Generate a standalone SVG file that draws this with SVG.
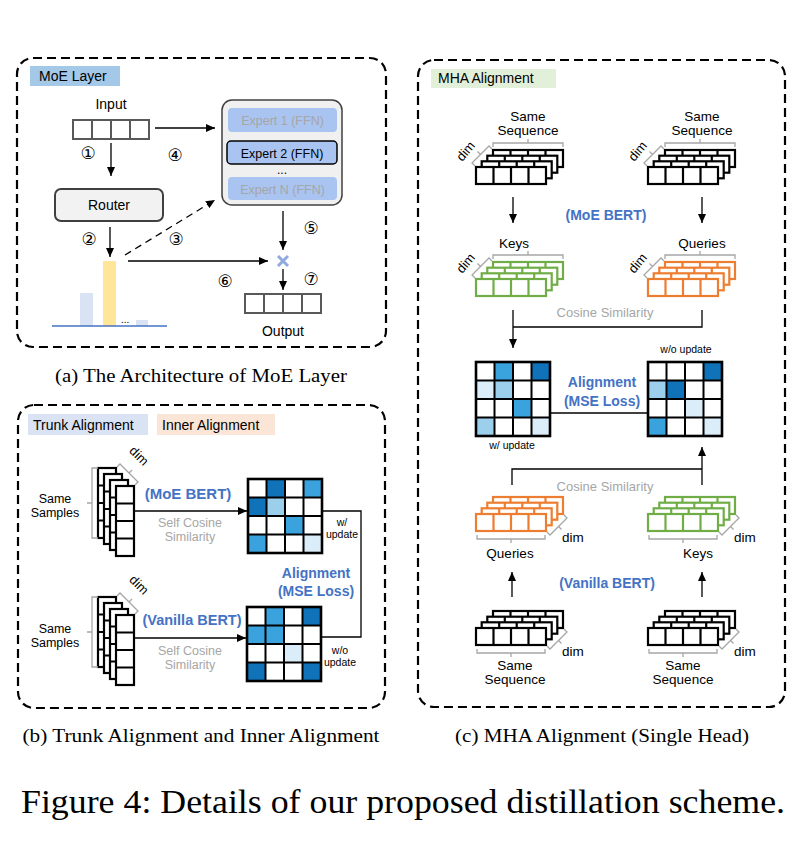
<svg xmlns="http://www.w3.org/2000/svg" xmlns:xlink="http://www.w3.org/1999/xlink" width="809" height="843" viewBox="0 0 809 843">
<style>
.frame{fill:none;stroke:#000;stroke-width:2.2;stroke-dasharray:9 5}
.t{font-family:"Liberation Sans",Arial,sans-serif;font-size:13.5px;fill:#000}
.c{text-anchor:middle}
.num{font-family:"DejaVu Sans",sans-serif;font-size:17px;text-anchor:middle;fill:#000}
.blue{font-family:"Liberation Sans",Arial,sans-serif;font-weight:bold;font-size:14px;fill:#4472c4;text-anchor:middle}
.gray{font-family:"Liberation Sans",Arial,sans-serif;font-size:12.5px;fill:#a6a6a6;text-anchor:middle}
.small{font-family:"Liberation Sans",Arial,sans-serif;font-size:10.5px;fill:#000;text-anchor:middle}
.cap{font-family:"Liberation Serif","Times New Roman",serif;font-size:19.5px;fill:#000;text-anchor:middle}
.ln{fill:none;stroke:#000;stroke-width:1.3}
.br{fill:none;stroke:#a6a6a6;stroke-width:1.3}
.D{fill:#1072b9}.M{fill:#3aa2dc}.L{fill:#9ccfec}.V{fill:#daedf8}
</style>
<defs>
<marker id="ah" viewBox="0 0 9 8" refX="9" refY="4" markerWidth="9" markerHeight="8" markerUnits="userSpaceOnUse" orient="auto"><path d="M0,0L9,4L0,8z" fill="#000"/></marker>
<g id="hrow"><rect width="70" height="17" fill="#fff" stroke="currentColor" stroke-width="2.2"/><path d="M17.5,0V17M35,0V17M52.5,0V17" stroke="currentColor" stroke-width="2.2"/></g>
<g id="hstack"><use href="#hrow" x="17" y="-17"/><use href="#hrow" x="11.3" y="-11.3"/><use href="#hrow" x="5.7" y="-5.7"/><use href="#hrow"/></g>
<g id="vcol"><rect width="18" height="70" fill="#fff" stroke="#000" stroke-width="2.2"/><path d="M0,17.5H18M0,35H18M0,52.5H18" stroke="#000" stroke-width="2.2"/></g>
<g id="vstack"><use href="#vcol" x="-18" y="-18"/><use href="#vcol" x="-12" y="-12"/><use href="#vcol" x="-6" y="-6"/><use href="#vcol"/>
<path class="br" d="M-18,-18H-24V52H-18M-24,17H-29M1,-19L4,-22L22,-4L19,-1M13,-13L16,-16"/>
<text class="t" style="font-size:13px" transform="translate(20,-27) rotate(45)" text-anchor="middle">dim</text></g>
<g id="topbr"><path class="br" d="M17,-20V-24H87V-20M52,-24V-28M-1,-1L-4,-4L13,-21L16,-18M4.5,-12.5L1.5,-15.5"/>
<text class="t" style="font-size:13px" transform="translate(-7,-13) rotate(-50)" text-anchor="middle">dim</text></g>
<g id="botbr"><path class="br" d="M1,21V25H69V21M35,25V29M71,18L74,21L91,4L88,1M82.5,12.5L85.5,15.5"/>
<text class="t" x="86" y="28">dim</text></g>
<g id="grid"><rect width="74" height="74" fill="none" stroke="#000" stroke-width="2.6"/><path d="M18.5,0V74M37,0V74M55.5,0V74M0,18.5H74M0,37H74M0,55.5H74" stroke="#000" stroke-width="2"/></g>
<g id="irow"><rect width="76" height="19" fill="#fff" stroke="#595959" stroke-width="2"/><path d="M19,0V19M38,0V19M57,0V19" stroke="#595959" stroke-width="2"/></g>
</defs>
<rect width="809" height="843" fill="#fff"/>

<!-- Panel frames -->
<rect class="frame" x="17" y="58" width="369" height="289" rx="16"/>
<rect class="frame" x="18" y="405" width="367" height="303" rx="16"/>
<rect class="frame" x="418" y="60" width="367" height="647" rx="16"/>

<!-- ===== Panel a ===== -->
<g id="moe-label"><rect x="30" y="66" width="90" height="20" fill="#a4c8e8"/><text class="t" x="39" y="81" style="font-size:14px">MoE Layer</text></g>
<g id="input"><text class="t c" x="111" y="109" style="font-size:14px">Input</text><use href="#irow" x="73" y="120"/></g>
<g id="router"><rect x="55" y="189" width="108" height="32" rx="6" fill="#f2f2f2" stroke="#404040" stroke-width="2"/><text class="t c" x="109" y="210" style="font-size:14px">Router</text></g>
<g id="experts"><rect x="222" y="100" width="120" height="105" rx="10" fill="#f0f0f0" stroke="#404040" stroke-width="1.5"/>
<rect x="228" y="108" width="109" height="24" rx="4" fill="#a9c4f0"/><text class="t c" x="282.5" y="125" style="font-size:12.5px;fill:#a6a6a6">Expert 1 (FFN)</text>
<rect x="227" y="141" width="110" height="23" rx="4" fill="#a9c4f0" stroke="#000" stroke-width="1.5"/><text class="t c" x="282" y="157.5" style="font-size:12.5px">Expert 2 (FFN)</text>
<text class="t c" x="282" y="174" style="font-size:12px">...</text>
<rect x="228" y="177" width="109" height="23" rx="4" fill="#a9c4f0"/><text class="t c" x="282.5" y="193.5" style="font-size:12.5px;fill:#a6a6a6">Expert N (FFN)</text></g>
<g id="gates"><rect x="80" y="293" width="13" height="33" fill="#dae3f3"/><rect x="103" y="261" width="13" height="65" fill="#ffe699"/><rect x="136" y="320" width="12" height="6" fill="#dae3f3"/><text class="t" x="121" y="323" style="font-size:10px">...</text><path d="M52,326H167" stroke="#4472c4" stroke-width="1.5"/></g>
<g id="mult"><path d="M278,256L288,266M288,256L278,266" stroke="#8faadc" stroke-width="3"/></g>
<g id="output"><use href="#irow" x="245" y="294"/><text class="t c" x="283" y="336" style="font-size:14px">Output</text></g>
<g id="steps"><text class="num" x="88" y="159">①</text><text class="num" x="89" y="245">②</text><text class="num" x="176" y="245">③</text><text class="num" x="175" y="161">④</text><text class="num" x="311" y="234">⑤</text><text class="num" x="225" y="287">⑥</text><text class="num" x="311" y="285">⑦</text></g>

<!-- ===== Panel b ===== -->
<g id="trunk-label"><rect x="28" y="414" width="120" height="21" fill="#dae3f3"/><text class="t" x="33" y="430" style="font-size:14px">Trunk Alignment</text></g>
<g id="inner-label"><rect x="157" y="414" width="118" height="21" fill="#fbe5d6"/><text class="t" x="162" y="430" style="font-size:14px">Inner Alignment</text></g>
<g id="moe-samples"><use href="#vstack" x="116" y="486"/><text class="t c" x="55" y="503" style="font-size:12.5px">Same</text><text class="t c" x="55" y="517" style="font-size:12.5px">Samples</text></g>
<g id="van-samples"><use href="#vstack" x="116" y="615"/><text class="t c" x="55" y="633" style="font-size:12.5px">Same</text><text class="t c" x="55" y="647" style="font-size:12.5px">Samples</text></g>
<g id="b-labels"><text class="blue" x="188" y="499" style="font-size:15px">(MoE BERT)</text><text class="gray" x="190" y="527">Self Cosine</text><text class="gray" x="190" y="541">Similarity</text>
<text class="blue" x="192" y="625" style="font-size:14.5px">(Vanilla BERT)</text><text class="gray" x="190" y="655">Self Cosine</text><text class="gray" x="190" y="669">Similarity</text>
<text class="blue" x="316" y="578">Alignment</text><text class="blue" x="316" y="596">(MSE Loss)</text>
<text class="small" x="342" y="526">w/</text><text class="small" x="342" y="538">update</text><text class="small" x="340" y="654">w/o</text><text class="small" x="340" y="666">update</text></g>
<g id="b-mat-moe" transform="translate(248,479)"><rect class="D" x="18.5" width="18.5" height="18.5"/><rect class="M" x="55.5" width="18.5" height="18.5"/><rect class="D" y="18.5" width="18.5" height="18.5"/><rect class="L" x="18.5" y="18.5" width="18.5" height="18.5"/><rect class="M" x="37" y="37" width="18.5" height="18.5"/><rect class="M" y="55.5" width="18.5" height="18.5"/><rect class="V" x="55.5" y="55.5" width="18.5" height="18.5"/><use href="#grid"/></g>
<g id="b-mat-van" transform="translate(247,607)"><rect class="M" x="18.5" width="18.5" height="18.5"/><rect class="D" x="55.5" width="18.5" height="18.5"/><rect class="M" y="18.5" width="18.5" height="18.5"/><rect class="M" x="18.5" y="18.5" width="18.5" height="18.5"/><rect class="V" x="37" y="37" width="18.5" height="18.5"/><rect class="D" y="55.5" width="18.5" height="18.5"/><rect class="D" x="55.5" y="55.5" width="18.5" height="18.5"/><use href="#grid"/></g>

<!-- ===== Panel c ===== -->
<g id="mha-label"><rect x="431" y="69" width="125" height="19" fill="#e2f0d9"/><text class="t" x="438" y="83" style="font-size:14px">MHA Alignment</text></g>
<g id="seq-tl"><use href="#hstack" x="476" y="167" style="color:#000"/><use href="#topbr" x="476" y="167"/><text class="t c" x="528" y="121">Same</text><text class="t c" x="528" y="135">Sequence</text></g>
<g id="seq-tr"><use href="#hstack" x="648" y="167" style="color:#000"/><use href="#topbr" x="648" y="167"/><text class="t c" x="702" y="121">Same</text><text class="t c" x="702" y="135">Sequence</text></g>
<g id="keys-top"><use href="#hstack" x="476" y="279" style="color:#70ad47"/><use href="#topbr" x="476" y="279"/><text class="t c" x="514" y="248">Keys</text></g>
<g id="queries-top"><use href="#hstack" x="648" y="279" style="color:#ed7d31"/><use href="#topbr" x="648" y="279"/><text class="t c" x="702" y="248">Queries</text></g>
<g id="c-top-labels"><text class="blue" x="606" y="220">(MoE BERT)</text><text class="gray" x="605" y="317" style="font-size:13px">Cosine Similarity</text><text class="small" x="686" y="353">w/o update</text><text class="small" x="512" y="449">w/ update</text><text class="blue" x="602" y="387">Alignment</text><text class="blue" x="602" y="406">(MSE Loss)</text></g>
<g id="c-mat-moe" transform="translate(476,362)"><rect class="M" x="18.5" width="18.5" height="18.5"/><rect class="D" x="55.5" width="18.5" height="18.5"/><rect class="V" y="18.5" width="18.5" height="18.5"/><rect class="L" x="18.5" y="18.5" width="18.5" height="18.5"/><rect class="M" x="37" y="37" width="18.5" height="18.5"/><rect class="L" y="55.5" width="18.5" height="18.5"/><rect class="V" x="55.5" y="55.5" width="18.5" height="18.5"/><use href="#grid"/></g>
<g id="c-mat-van" transform="translate(648,362)"><rect class="D" x="55.5" width="18.5" height="18.5"/><rect class="L" y="18.5" width="18.5" height="18.5"/><rect class="D" x="18.5" y="18.5" width="18.5" height="18.5"/><rect class="V" x="37" y="37" width="18.5" height="18.5"/><rect class="M" y="55.5" width="18.5" height="18.5"/><rect class="V" x="55.5" y="55.5" width="18.5" height="18.5"/><use href="#grid"/></g>
<g id="queries-bot"><use href="#hstack" x="476" y="514" style="color:#ed7d31"/><use href="#botbr" x="476" y="514"/><text class="t c" x="510" y="558">Queries</text></g>
<g id="keys-bot"><use href="#hstack" x="648" y="514" style="color:#70ad47"/><use href="#botbr" x="648" y="514"/><text class="t c" x="698" y="558">Keys</text></g>
<g id="seq-bl"><use href="#hstack" x="476" y="628" style="color:#000"/><use href="#botbr" x="476" y="628"/><text class="t c" x="515" y="670">Same</text><text class="t c" x="515" y="684">Sequence</text></g>
<g id="seq-br"><use href="#hstack" x="648" y="628" style="color:#000"/><use href="#botbr" x="648" y="628"/><text class="t c" x="683" y="670">Same</text><text class="t c" x="683" y="684">Sequence</text></g>
<g id="c-bot-labels"><text class="gray" x="605" y="491" style="font-size:13px">Cosine Similarity</text><text class="blue" x="607" y="588">(Vanilla BERT)</text></g>

<!-- ===== Connectors ===== -->
<g id="connectors">
<path class="ln" d="M155,128H215" marker-end="url(#ah)"/>
<path class="ln" d="M111,143V176" marker-end="url(#ah)"/>
<path class="ln" d="M110,227V257" marker-end="url(#ah)"/>
<path class="ln" d="M125,255L215,200" stroke-dasharray="7 5" marker-end="url(#ah)"/>
<path class="ln" d="M128,261H268" marker-end="url(#ah)"/>
<path class="ln" d="M283,211V250" marker-end="url(#ah)"/>
<path class="ln" d="M283,269V290" marker-end="url(#ah)"/>
<path class="ln" d="M134,511H247" marker-end="url(#ah)"/>
<path class="ln" d="M134,638H246" marker-end="url(#ah)"/>
<path class="ln" d="M322,511H361V637H322"/>
<path class="ln" d="M513,197V223" marker-end="url(#ah)"/>
<path class="ln" d="M702,197V223" marker-end="url(#ah)"/>
<path class="ln" d="M513,310V348" marker-end="url(#ah)"/>
<path class="ln" d="M702,310V327H513"/>
<path class="ln" d="M550,413H648"/>
<path class="ln" d="M512,485V469H702"/>
<path class="ln" d="M702,485V447" marker-end="url(#ah)"/>
<path class="ln" d="M512,597V572" marker-end="url(#ah)"/>
<path class="ln" d="M702,597V572" marker-end="url(#ah)"/>
</g>

<!-- Captions -->
<text class="cap" x="201" y="382" textLength="292" lengthAdjust="spacingAndGlyphs">(a) The Architecture of MoE Layer</text>
<text class="cap" x="201" y="742" textLength="357" lengthAdjust="spacingAndGlyphs">(b) Trunk Alignment and Inner Alignment</text>
<text class="cap" x="602" y="742" textLength="294" lengthAdjust="spacingAndGlyphs">(c) MHA Alignment (Single Head)</text>
<text class="cap" x="403" y="813" style="font-size:34px" textLength="764" lengthAdjust="spacingAndGlyphs">Figure 4: Details of our proposed distillation scheme.</text>
</svg>
